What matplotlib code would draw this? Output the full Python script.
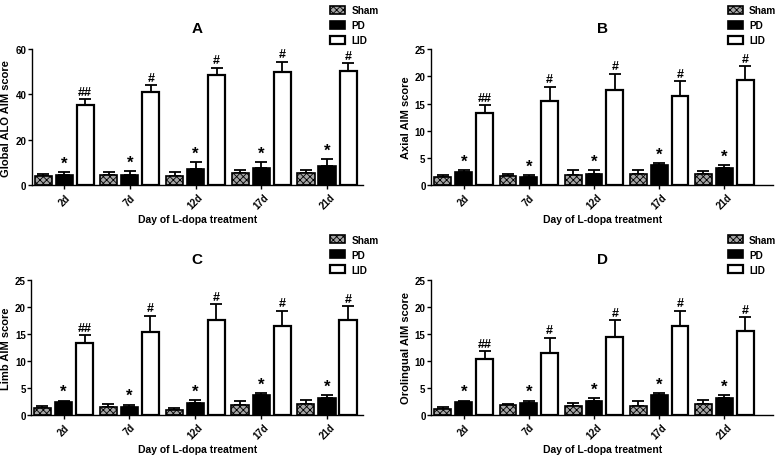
import matplotlib
matplotlib.use("Agg")
import matplotlib.pyplot as plt
import numpy as np

plt.rcParams['font.family'] = ['Liberation Sans', 'DejaVu Sans']
plt.rcParams['font.weight'] = 'bold'
plt.rcParams['hatch.linewidth'] = 0.6
plt.rcParams['hatch.color'] = '#555555'

days = ["2d", "7d", "12d", "17d", "21d"]
groups = ["Sham", "PD", "LID"]

# panel A: global ALO AIM score
a_sham = [3.8, 4.4, 4.1, 5.3, 5.3]
a_sham_err = [1.0, 1.2, 1.5, 1.5, 1.5]
a_pd = [4.4, 4.4, 7.1, 7.4, 8.2]
a_pd_err = [1.2, 1.9, 2.9, 2.9, 3.3]
a_lid = [35.3, 41.3, 48.5, 50.1, 50.4]
a_lid_err = [2.6, 2.7, 3.4, 4.3, 3.3]

# panel B: axial
b_sham = [1.4, 1.6, 1.8, 2.1, 2.0]
b_sham_err = [0.5, 0.5, 1.0, 0.7, 0.6]
b_pd = [2.45, 1.5, 2.1, 3.6, 3.2]
b_pd_err = [0.25, 0.4, 0.7, 0.4, 0.5]
b_lid = [13.2, 15.4, 17.4, 16.4, 19.4]
b_lid_err = [1.5, 2.7, 3.1, 2.7, 2.5]

# panel C: limb
c_sham = [1.2, 1.5, 0.9, 1.9, 2.0]
c_sham_err = [0.5, 0.5, 0.3, 0.6, 0.8]
c_pd = [2.4, 1.5, 2.2, 3.6, 3.2]
c_pd_err = [0.25, 0.4, 0.6, 0.4, 0.5]
c_lid = [13.3, 15.4, 17.5, 16.5, 17.5]
c_lid_err = [1.5, 3.0, 3.0, 2.8, 2.6]

# panel D: orolingual
d_sham = [1.1, 1.8, 1.7, 1.7, 2.0]
d_sham_err = [0.4, 0.3, 0.5, 0.9, 0.8]
d_pd = [2.4, 2.2, 2.6, 3.6, 3.2]
d_pd_err = [0.25, 0.45, 0.5, 0.4, 0.5]
d_lid = [10.3, 11.5, 14.4, 16.5, 15.6]
d_lid_err = [1.5, 2.8, 3.1, 2.8, 2.5]

lid_marks = ["##", "#", "#", "#", "#"]

fig = plt.figure(figsize=(7.81, 4.56), dpi=100)

def panel(rect, title, ylabel, ymax, ystep, sham, sham_e, pd, pd_e, lid, lid_e, xlim, leg_xy):
    ax = fig.add_axes(rect)
    x = np.arange(len(days))
    pitch, w = 0.32, 0.26
    zero = np.zeros(len(days))
    ax.bar(x - pitch, sham, w, color='#a5a5a5', hatch='xxxxx', edgecolor='black', linewidth=1.2, label=groups[0], zorder=2)
    ax.bar(x, pd, w, color='black', edgecolor='black', linewidth=1.2, label=groups[1], zorder=2)
    ax.bar(x + pitch, lid, w, color='white', edgecolor='black', linewidth=1.6, label=groups[2], zorder=2)
    for xs, v, e in [(x - pitch, sham, sham_e), (x, pd, pd_e), (x + pitch, lid, lid_e)]:
        ax.errorbar(xs, v, yerr=[zero, e], fmt='none', ecolor='black', elinewidth=1.3, capsize=4, capthick=1.3, zorder=1)
    off = ymax * 0.01
    for i in range(len(days)):
        ax.text(x[i], pd[i] + pd_e[i] + off, "*", ha='center', va='bottom', fontsize=12, fontweight='bold')
        ax.text(x[i] + pitch, lid[i] + lid_e[i] + off, lid_marks[i], ha='center', va='bottom', fontsize=9, fontweight='bold')
    ax.set_ylim(0, ymax)
    ax.set_yticks(np.arange(0, ymax + 1, ystep))
    ax.set_xlim(*xlim)
    ax.set_xticks(x)
    ax.set_xticklabels(days, rotation=45, ha='center', fontsize=7, fontweight='bold')
    ax.tick_params(axis='y', labelsize=7, width=1, length=3, pad=1)
    ax.tick_params(axis='x', width=1, length=3, pad=2)
    for s in ['top', 'right']:
        ax.spines[s].set_visible(False)
    for s in ['left', 'bottom']:
        ax.spines[s].set_linewidth(1.0)
    ax.set_ylabel(ylabel, fontsize=8, fontweight='bold', labelpad=3)
    ax.set_xlabel("Day of L-dopa treatment", fontsize=7.5, fontweight='bold', labelpad=2)
    ax.set_title(title, fontsize=11, fontweight='bold', pad=12)
    ax.legend(loc='upper left', bbox_to_anchor=leg_xy, bbox_transform=fig.transFigure,
              frameon=False, fontsize=7.2, handlelength=1.5, handleheight=0.8,
              labelspacing=0.5, handletextpad=0.6, borderaxespad=0)
    return ax

panel([0.041, 0.592, 0.424, 0.298], "A", "Global ALO AIM score", 60, 20,
      a_sham, a_sham_err, a_pd, a_pd_err, a_lid, a_lid_err, (-0.49, 4.55), (0.418, 0.995))
panel([0.552, 0.592, 0.438, 0.298], "B", "Axial AIM score", 25, 5,
      b_sham, b_sham_err, b_pd, b_pd_err, b_lid, b_lid_err, (-0.5, 4.75), (0.927, 0.995))
panel([0.040, 0.088, 0.425, 0.296], "C", "Limb AIM score", 25, 5,
      c_sham, c_sham_err, c_pd, c_pd_err, c_lid, c_lid_err, (-0.49, 4.55), (0.418, 0.492))
panel([0.552, 0.088, 0.438, 0.296], "D", "Orolingual AIM score", 25, 5,
      d_sham, d_sham_err, d_pd, d_pd_err, d_lid, d_lid_err, (-0.5, 4.75), (0.927, 0.492))

fig.savefig("out.png", dpi=100)
